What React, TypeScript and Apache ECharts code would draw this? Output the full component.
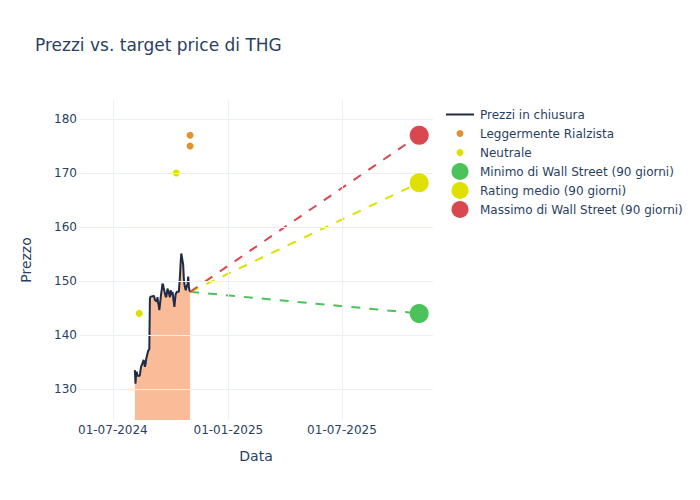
import React, { useEffect, useRef } from "react";
import * as echarts from "echarts";

const priceDates = [
  "2024-08-05", "2024-08-06", "2024-08-07", "2024-08-08", "2024-08-09",
  "2024-08-12", "2024-08-13", "2024-08-14", "2024-08-15", "2024-08-16",
  "2024-08-19", "2024-08-20", "2024-08-21", "2024-08-22", "2024-08-23",
  "2024-08-26", "2024-08-27", "2024-08-28", "2024-08-29", "2024-08-30",
  "2024-09-03", "2024-09-04", "2024-09-05", "2024-09-06",
  "2024-09-09", "2024-09-10", "2024-09-11", "2024-09-12", "2024-09-13",
  "2024-09-16", "2024-09-17", "2024-09-18", "2024-09-19", "2024-09-20",
  "2024-09-23", "2024-09-24", "2024-09-25", "2024-09-26", "2024-09-27",
  "2024-09-30", "2024-10-01", "2024-10-02", "2024-10-03", "2024-10-04",
  "2024-10-07", "2024-10-08", "2024-10-09", "2024-10-10", "2024-10-11",
  "2024-10-14", "2024-10-15", "2024-10-16", "2024-10-17", "2024-10-18",
  "2024-10-21", "2024-10-22", "2024-10-23", "2024-10-24", "2024-10-25",
  "2024-10-28", "2024-10-29", "2024-10-30", "2024-10-31", "2024-11-01",
];
const priceValues = [
  133.5, 131.0, 132.8, 133.2, 132.5,
  132.4, 132.6, 133.5, 134.2, 134.4,
  135.4, 134.8, 134.1, 134.6, 135.5,
  137.0, 137.2, 137.3, 146.8, 147.1,
  147.2, 147.3, 147.0, 146.5,
  146.2, 147.0, 146.0, 145.5, 144.6,
  147.8, 148.5, 149.5, 149.3, 148.6,
  147.2, 147.0, 147.8, 148.6, 148.2,
  147.0, 148.3, 147.8, 147.4, 148.0,
  145.2, 146.5, 147.6, 147.8, 148.0,
  148.0, 149.5, 151.2, 153.5, 155.1,
  153.0, 150.5, 149.4, 148.8, 148.3,
  149.5, 150.8, 149.0, 148.3, 148.0,
];

const bullishDates = ["2024-11-01", "2024-11-01"];
const bullishValues = [175, 177];
const neutralDates = ["2024-08-12", "2024-10-10"];
const neutralValues = [144, 170];

const targetDate = "2025-11-01";
const lowTarget = 144;
const avgTarget = 168.2;
const highTarget = 177;

const yTickValues = [130, 140, 150, 160, 170, 180];
const xTickDates = ["2024-07-01", "2025-01-01", "2025-07-01"];

const NAVY = "#1f2a44";
const FILL = "#f9bb98";
const ORANGE = "#e0922c";
const YELLOW = "#dfdf00";
const GREEN = "#4cc25a";
const RED = "#d9474f";
const TXT = "#2a3f5f";
const GRID = "#ebf0f8";
const FONT = "DejaVu Sans";

const pad = (n: number) => (n < 10 ? "0" + n : "" + n);

export default function App() {
  const ref = useRef<HTMLDivElement>(null);
  useEffect(() => {
    document.body.style.margin = "0";
    if (!ref.current) return;
    const chart = echarts.init(ref.current, null, { renderer: "svg" });
    const lastDate = priceDates[priceDates.length - 1];
    const lastPrice = priceValues[priceValues.length - 1];
    const xTickTimes = xTickDates.map((d) => new Date(d + "T00:00:00").getTime());

    // legend entry: icon centered at x=460 (circles) or spanning 446-474 (line); text at x=480
    const legendItem = (
      name: string,
      center: number,
      h: number,
      w: number,
      icon: string,
      color: string
    ) => {
      const boxH = Math.max(h, 14);
      const left = icon === "rect" ? 446 : 460 - w / 2;
      const textPad = 480 - (left + w + 5);
      return {
        left,
        top: center - boxH / 2,
        padding: 0,
        itemWidth: w,
        itemHeight: h,
        symbolKeepAspect: true,
        textStyle: {
          color: TXT,
          fontSize: 12,
          fontFamily: FONT,
          lineHeight: 14,
          padding: [0, 0, 0, textPad],
        },
        data: [{ name, icon, itemStyle: { color, borderWidth: 0 } }],
        selectedMode: false,
      };
    };

    chart.setOption({
      animation: false,
      backgroundColor: "#ffffff",
      textStyle: { fontFamily: FONT },
      title: {
        text: "Prezzi vs. target price di THG",
        left: 35,
        top: 35,
        padding: 0,
        textStyle: { color: TXT, fontSize: 17, fontWeight: "normal", fontFamily: FONT, lineHeight: 20 },
      },
      legend: [
        legendItem("Prezzi in chiusura", 114.5, 2, 28, "rect", NAVY),
        legendItem("Leggermente Rialzista", 133.5, 7, 7, "circle", ORANGE),
        legendItem("Neutrale", 152.5, 7, 7, "circle", YELLOW),
        legendItem("Minimo di Wall Street (90 giorni)", 171.5, 17, 17, "circle", GREEN),
        legendItem("Rating medio (90 giorni)", 190.5, 17, 17, "circle", YELLOW),
        legendItem("Massimo di Wall Street (90 giorni)", 209.5, 17, 17, "circle", RED),
      ],
      grid: { left: 79, right: 267, top: 100, bottom: 80, containLabel: false },
      xAxis: {
        type: "time",
        min: "2024-05-08",
        max: "2025-11-23",
        minInterval: 180 * 864e5,
        maxInterval: 186 * 864e5,
        name: "Data",
        nameLocation: "middle",
        nameGap: 29,
        nameTextStyle: { color: TXT, fontSize: 14, fontFamily: FONT },
        axisLine: { show: false },
        axisTick: { show: false },
        axisLabel: {
          color: TXT,
          fontSize: 12,
          fontFamily: FONT,
          margin: 4,
          hideOverlap: false,
          showMinLabel: false,
          showMaxLabel: false,
          formatter: (v: number) => {
            const d = new Date(v);
            if (!xTickTimes.some((t) => Math.abs(t - v) < 864e5)) return "";
            return pad(d.getDate()) + "-" + pad(d.getMonth() + 1) + "-" + d.getFullYear();
          },
        },
        splitLine: { show: false },
      },
      yAxis: {
        type: "value",
        min: 124.26,
        max: 183.52,
        splitNumber: 5,
        name: "Prezzo",
        nameLocation: "middle",
        nameGap: 46,
        nameTextStyle: { color: TXT, fontSize: 14, fontFamily: FONT },
        axisLine: { show: false },
        axisTick: { show: false },
        axisLabel: {
          color: TXT,
          fontSize: 12,
          fontFamily: FONT,
          margin: 2,
          showMinLabel: false,
          showMaxLabel: false,
          formatter: (v: number) => (yTickValues.includes(Math.round(v * 100) / 100) ? String(v) : ""),
        },
        splitLine: { show: false },
      },
      series: [
        {
          name: "grid",
          type: "line",
          data: [[xTickDates[0], yTickValues[0]]],
          showSymbol: false,
          symbol: "none",
          silent: true,
          z: 1,
          markLine: {
            silent: true,
            symbol: ["none", "none"],
            label: { show: false },
            lineStyle: { color: GRID, type: "solid", width: 1 },
            data: [
              ...xTickDates.map((d) => ({ xAxis: d })),
              ...yTickValues.map((v) => ({ yAxis: v })),
            ],
          },
        },
        {
          name: "Prezzi in chiusura",
          type: "line",
          data: priceDates.map((d, i) => [d, priceValues[i]]),
          showSymbol: false,
          symbol: "none",
          itemStyle: { color: NAVY },
          lineStyle: { color: NAVY, width: 2 },
          areaStyle: { color: FILL, opacity: 1, origin: "start" },
          z: 2,
        },
        {
          name: "Leggermente Rialzista",
          type: "scatter",
          data: bullishDates.map((d, i) => [d, bullishValues[i]]),
          symbolSize: 7,
          itemStyle: { color: ORANGE, opacity: 1 },
          z: 4,
        },
        {
          name: "Neutrale",
          type: "scatter",
          data: neutralDates.map((d, i) => [d, neutralValues[i]]),
          symbolSize: 7,
          itemStyle: { color: YELLOW, opacity: 1 },
          z: 4,
        },
        ...[
          { t: lowTarget, c: GREEN },
          { t: avgTarget, c: YELLOW },
          { t: highTarget, c: RED },
        ].map((o) => ({
          name: "dash-" + o.t,
          type: "line",
          data: [
            [lastDate, lastPrice],
            [targetDate, o.t],
          ],
          showSymbol: false,
          symbol: "none",
          lineStyle: { color: o.c, width: 2, type: [9, 9] },
          z: 3,
        })),
        {
          name: "Minimo di Wall Street (90 giorni)",
          type: "scatter",
          data: [[targetDate, lowTarget]],
          symbolSize: 19,
          itemStyle: { color: GREEN, opacity: 1 },
          z: 5,
        },
        {
          name: "Rating medio (90 giorni)",
          type: "scatter",
          data: [[targetDate, avgTarget]],
          symbolSize: 19,
          itemStyle: { color: YELLOW, opacity: 1 },
          z: 5,
        },
        {
          name: "Massimo di Wall Street (90 giorni)",
          type: "scatter",
          data: [[targetDate, highTarget]],
          symbolSize: 19,
          itemStyle: { color: RED, opacity: 1 },
          z: 5,
        },
      ],
    });
    return () => chart.dispose();
  }, []);
  return <div ref={ref} style={{ width: 700, height: 500 }} />;
}
